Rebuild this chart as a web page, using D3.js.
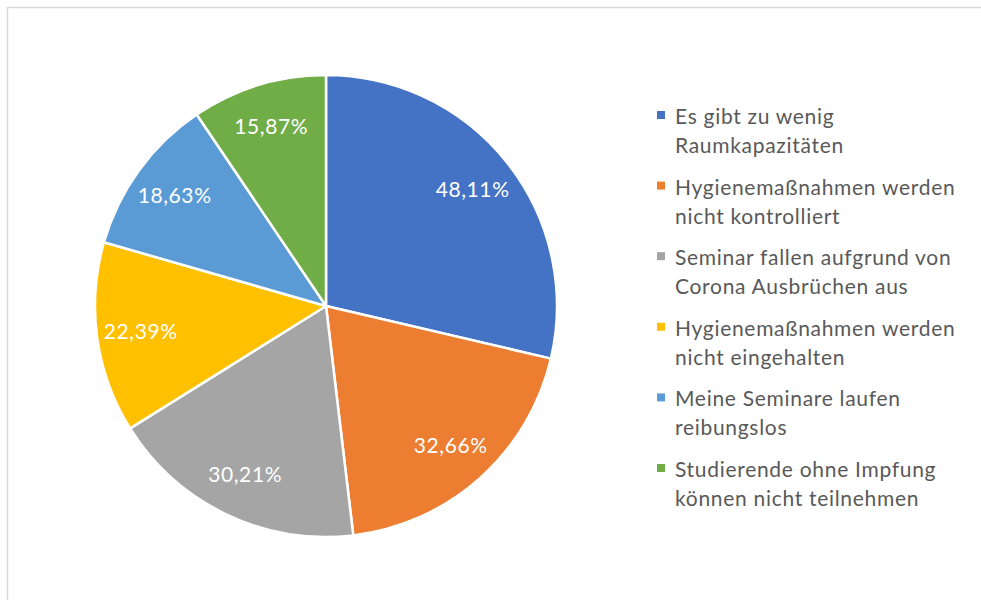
<!DOCTYPE html>
<html>
<head>
<meta charset="utf-8">
<script src="https://cdn.jsdelivr.net/npm/d3@7"></script>
<style>
  html, body { margin: 0; padding: 0; background: #fff; }
  svg { display: block; font-family: Lato, "Open Sans", sans-serif; }
</style>
</head>
<body>
<svg id="chart" width="981" height="600"></svg>
<script>
// Survey answers (percent of respondents; multiple answers allowed)
const categories = [
  ["Es gibt zu wenig", "Raumkapazitäten"],
  ["Hygienemaßnahmen werden", "nicht kontrolliert"],
  ["Seminar fallen aufgrund von", "Corona Ausbrüchen aus"],
  ["Hygienemaßnahmen werden", "nicht eingehalten"],
  ["Meine Seminare laufen", "reibungslos"],
  ["Studierende ohne Impfung", "können nicht teilnehmen"]
];
const values = [48.11, 32.66, 30.21, 22.39, 18.63, 15.87];
const colors = ["#4472C4", "#ED7D31", "#A5A5A5", "#FFC000", "#5B9BD5", "#70AD47"];

const svg = d3.select("#chart");

// chart frame (extends past the right and bottom edges)
svg.append("rect")
  .attr("x", 7.5).attr("y", 7.5)
  .attr("width", 1200).attr("height", 1200)
  .attr("fill", "none")
  .attr("stroke", "#d9d9d9")
  .attr("stroke-width", 1.5);

const cx = 326, cy = 306, R = 231;
const pie = d3.pie().sort(null).value(d => d);
const arcs = pie(values);
const arc = d3.arc().innerRadius(0).outerRadius(R);
const labelArc = d3.arc().innerRadius(R * 0.81).outerRadius(R * 0.81);
const fmt = v => d3.format(".2f")(v).replace(".", ",") + "%";

const g = svg.append("g").attr("transform", `translate(${cx},${cy})`);
g.selectAll("path.slice")
  .data(arcs)
  .join("path")
  .attr("class", "slice")
  .attr("d", arc)
  .attr("fill", (d, i) => colors[i])
  .attr("stroke", "#fff")
  .attr("stroke-width", 2.5)
  .attr("stroke-linejoin", "round");

g.selectAll("text.lbl")
  .data(arcs)
  .join("text")
  .attr("class", "lbl")
  .attr("transform", d => `translate(${labelArc.centroid(d)})`)
  .attr("text-anchor", "middle")
  .attr("dy", "0.35em")
  .attr("fill", "#fff")
  .style("font-size", "21px")
  .style("letter-spacing", "0.6px")
  .text(d => fmt(d.data));

// legend
const legend = svg.append("g").attr("transform", "translate(657,0)");
const item = legend.selectAll("g.item")
  .data(categories)
  .join("g")
  .attr("class", "item")
  .attr("transform", (d, i) => `translate(0,${124 + i * 70.6})`);
item.append("rect")
  .attr("x", 0).attr("y", -13)
  .attr("width", 8).attr("height", 8)
  .attr("fill", (d, i) => colors[i]);
item.append("text")
  .attr("fill", "#595959")
  .style("font-size", "21px")
  .style("letter-spacing", "0.7px")
  .selectAll("tspan")
  .data(d => d)
  .join("tspan")
  .attr("x", 18)
  .attr("y", (d, j) => j * 29)
  .text(d => d);
</script>
</body>
</html>
